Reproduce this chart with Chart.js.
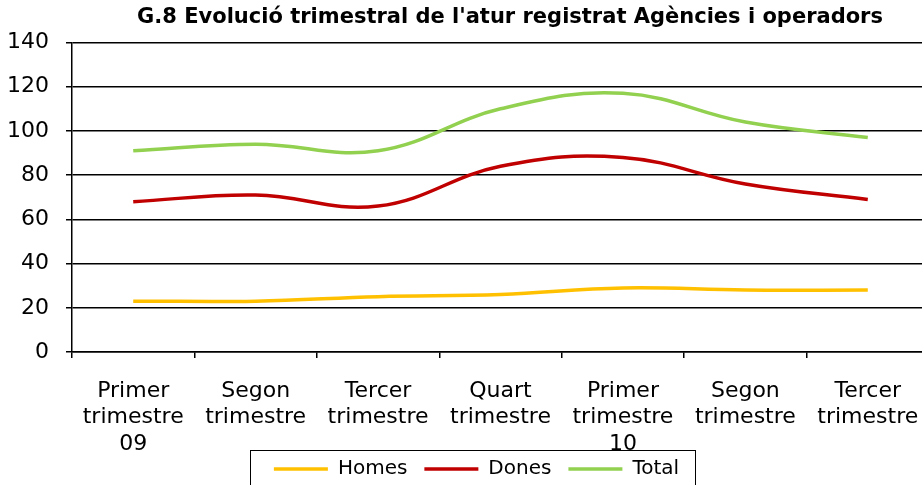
<!DOCTYPE html>
<html><head><meta charset="utf-8">
<script src="https://cdn.jsdelivr.net/npm/chart.js@4"></script>
<style>html,body{margin:0;padding:0;background:#fff;overflow:hidden;width:922px;height:485px}#wrap{width:940px;height:520px;position:relative}</style>
</head><body><div id="wrap"><canvas id="c"></canvas></div>
<script>
const chartTitle = "G.8 Evolució trimestral de l'atur registrat Agències i operadors";
const categories = [
  ['Primer','trimestre','09'],
  ['Segon','trimestre'],
  ['Tercer','trimestre'],
  ['Quart','trimestre'],
  ['Primer','trimestre','10'],
  ['Segon','trimestre'],
  ['Tercer','trimestre']
];
const seriesNames = ['Homes','Dones','Total'];
const homes = [23,23,25,26,29,28,28];
const dones = [68,71,66,84,88,76,69];
const total = [91,94,91,110,117,104,97];
const yMin = 0, yMax = 140, yStep = 20;

const FONT = "'DejaVu Sans', Verdana, sans-serif";

const decor = {
  id: 'decor',
  afterLayout(chart) {
    const lg = chart.legend;
    if (lg) { lg.left += 12; lg.right += 12; }
  },
  afterDraw(chart) {
    const ctx = chart.ctx;
    const lg = chart.legend;
    if (lg && lg.legendHitBoxes && lg.legendHitBoxes.length) {
      const hb = lg.legendHitBoxes;
      const l = Math.round(hb[0].left - 24);
      const last = hb[hb.length - 1];
      const r = Math.round(last.left + last.width + 16);
      ctx.save();
      ctx.fillStyle = '#fff';
      ctx.fillRect(l, 450, r - l, 70);
      ctx.strokeStyle = '#000';
      ctx.lineWidth = 1;
      ctx.strokeRect(l + 0.5, 450.5, r - l, 70);
      ctx.restore();
      lg.draw();
    }
    ctx.save();
    let size = 19;
    ctx.font = 'bold ' + size + 'px ' + FONT;
    const w = ctx.measureText(chartTitle).width;
    size = Math.max(15, Math.min(21, size * 758 / w));
    ctx.font = 'bold ' + size.toFixed(2) + 'px ' + FONT;
    ctx.fillStyle = '#000';
    ctx.textAlign = 'center';
    ctx.textBaseline = 'middle';
    ctx.fillText(chartTitle, 510, 18);
    ctx.restore();
  }
};

const colors = ['#FFC000', '#C00000', '#92D050'];
const values = [homes, dones, total];

new Chart(document.getElementById('c'), {
  type: 'line',
  data: {
    labels: categories,
    datasets: seriesNames.map((n, i) => ({
      label: n,
      data: values[i],
      borderColor: colors[i],
      backgroundColor: colors[i],
      borderWidth: 3.5,
      pointRadius: 0,
      pointHoverRadius: 0,
      tension: 0.4,
      fill: false,
      pointStyle: 'line'
    }))
  },
  options: {
    responsive: true,
    maintainAspectRatio: false,
    animation: false,
    devicePixelRatio: 1,
    events: [],
    layout: { padding: { top: 42.5, left: 0, right: 11, bottom: 31 } },
    plugins: {
      title: { display: false },
      tooltip: { enabled: false },
      legend: {
        display: true,
        position: 'bottom',
        labels: {
          usePointStyle: true,
          pointStyle: 'line',
          pointStyleWidth: 54,
          boxHeight: 20,
          padding: 17,
          color: '#000',
          font: { family: FONT, size: 20 }
        }
      }
    },
    scales: {
      x: {
        type: 'category',
        offset: true,
        afterFit(s) { s.height = 90; s._computeLabelArea = function () { return undefined; }; },
        grid: { display: true, drawOnChartArea: false, drawTicks: true, tickLength: 6, color: '#000', lineWidth: 1.5, offset: true },
        border: { display: true, color: '#000', width: 1.5 },
        ticks: { color: '#000', font: { family: FONT, size: 22, lineHeight: 1.2 }, padding: 20, maxRotation: 0, minRotation: 0, autoSkip: false }
      },
      y: {
        min: yMin, max: yMax,
        afterFit(s) { s.width = 72; },
        grid: { color: '#000', lineWidth: 1.5, tickLength: 6, drawTicks: true },
        border: { display: true, color: '#000', width: 1.5 },
        ticks: { stepSize: yStep, color: '#000', font: { family: FONT, size: 22 }, padding: 17 }
      }
    }
  },
  plugins: [decor]
});
</script>
</body></html>
